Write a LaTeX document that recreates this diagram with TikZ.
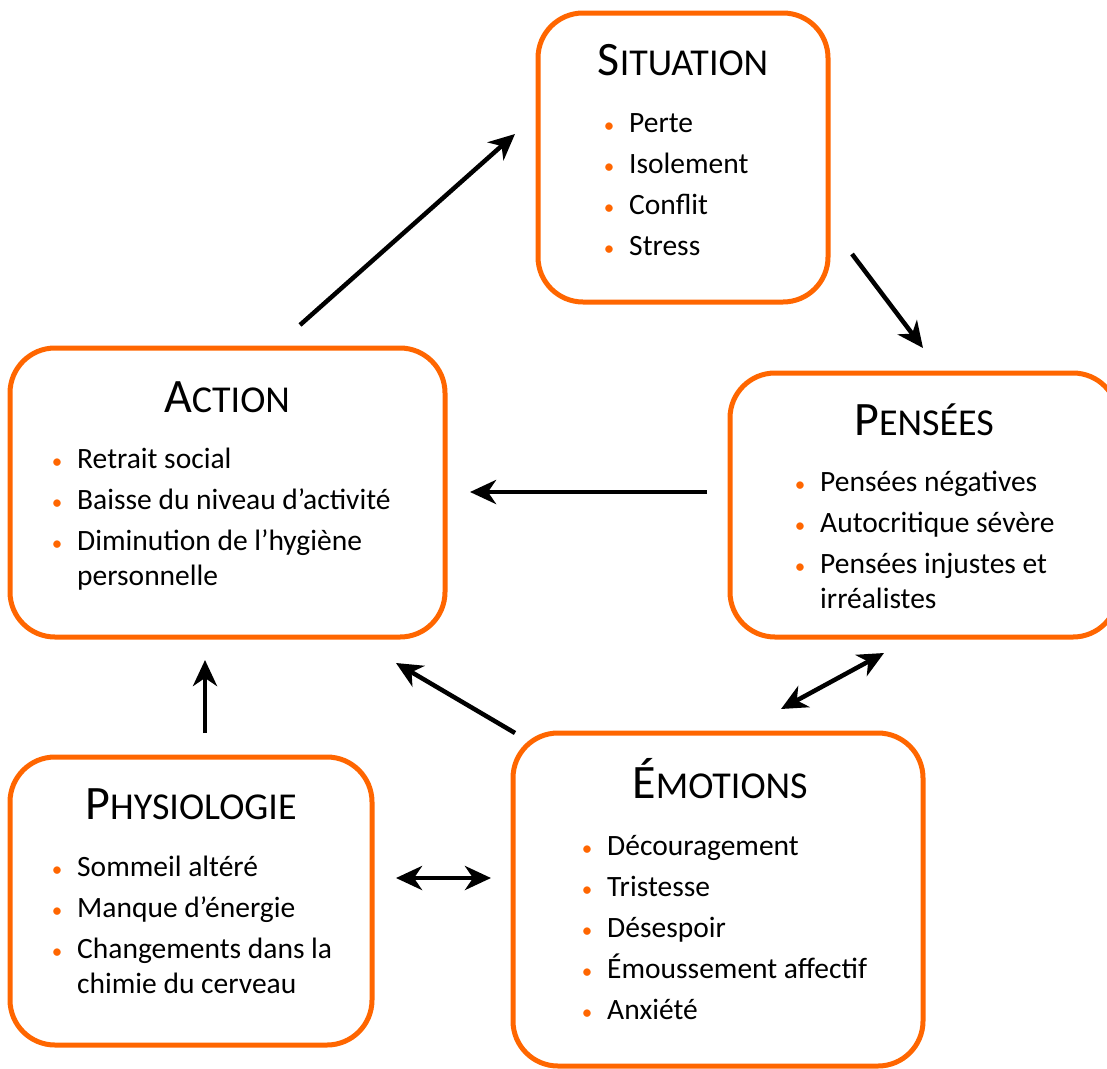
\documentclass[tikz,border=0pt]{standalone}
\usepackage{fontspec}
\setmainfont{Carlito}
\usetikzlibrary{arrows.meta}
\definecolor{orangeA}{RGB}{255,102,0}
\newcommand{\titre}[2]{{\fontsize{48}{48}\selectfont #1}{\fontsize{38}{38}\selectfont #2}}
\newcommand{\puce}{\leavevmode\llap{\makebox[40pt][c]{\fontsize{21}{21}\selectfont\textcolor{orangeA}{\textbullet}}}}
\newcommand{\liste}[1]{\vtop{\hsize=380pt\parindent=0pt\raggedright #1}}

\begin{document}
\begin{tikzpicture}[x=1pt, y=-1pt,
	boite/.style={draw=orangeA, line width=5pt, rounded corners=45pt, fill=white},
	titre/.style={anchor=base, inner sep=0pt},
	liste/.style={anchor=base west, inner sep=0pt, font=\fontsize{29.5}{35}\selectfont},
	fleche/.style={line width=4.5pt, -{Stealth[length=26pt, width=24pt, inset=8pt]}},
	fleches/.style={line width=4.5pt, {Stealth[length=26pt, width=24pt, inset=8pt]}-{Stealth[length=26pt, width=24pt, inset=8pt]}}]
	\useasboundingbox (0,0) rectangle (1107,1068);
	
	% les cinq cadres
	\node[boite, minimum width=290pt, minimum height=289pt] (situation) at (683,157.5) {};
	\node[boite, minimum width=435pt, minimum height=289pt] (action) at (227.5,492.5) {};
	\node[boite, minimum width=388pt, minimum height=264pt] (pensees) at (924,505) {};
	\node[boite, minimum width=362pt, minimum height=288pt] (physio) at (191,901) {};
	\node[boite, minimum width=410pt, minimum height=333pt] (emotions) at (718,899.5) {};
	
	% titres
	\node[titre] (tsit) at (683,75) {\titre{S}{ITUATION}};
	\node[titre] (tact) at (227,412) {\titre{A}{CTION}};
	\node[titre] (tpen) at (924,435) {\titre{P}{ENSÉES}};
	\node[titre] (tphy) at (191,819) {\titre{P}{HYSIOLOGIE}};
	\node[titre] (temo) at (720,798) {\titre{É}{MOTIONS}};
	
	% listes
	\node[liste] (lsit) at (629,132) {\liste{\puce Perte\\[6pt] \puce Isolement\\[6pt] \puce Conflit\\[6pt] \puce Stress}};
	\node[liste] (lact) at (77,468) {\liste{\puce Retrait social\\[6pt] \puce Baisse du niveau d’activité\\[6pt] \puce Diminution de l’hygiène\\ personnelle}};
	\node[liste] (lpen) at (820,491) {\liste{\puce Pensées négatives\\[6pt] \puce Autocritique sévère\\[6pt] \puce Pensées injustes et\\ irréalistes}};
	\node[liste] (lphy) at (77,876) {\liste{\puce Sommeil altéré\\[6pt] \puce Manque d’énergie\\[6pt] \puce Changements dans la\\ chimie du cerveau}};
	\node[liste] (lemo) at (607,855) {\liste{\puce Découragement\\[6pt] \puce Tristesse\\[6pt] \puce Désespoir\\[6pt] \puce Émoussement affectif\\[6pt] \puce Anxiété}};
	
	% fleches
	\coordinate (as1) at (300,325);
	\coordinate (as2) at (515,134);
	\coordinate (sp1) at (852,254);
	\coordinate (sp2) at (923,348);
	\coordinate (pa1) at (707,492);
	\coordinate (pa2) at (470,492);
	\coordinate (ha1) at (205,733);
	\coordinate (ha2) at (205,660);
	\coordinate (ea1) at (515,733);
	\coordinate (ea2) at (396,663);
	\coordinate (pe1) at (884,653);
	\coordinate (pe2) at (781,709);
	\coordinate (he1) at (396,878);
	\coordinate (he2) at (491,878);
	
	\draw[fleche] (as1) -- (as2);
	\draw[fleche] (sp1) -- (sp2);
	\draw[fleche] (pa1) -- (pa2);
	\draw[fleche] (ha1) -- (ha2);
	\draw[fleche] (ea1) -- (ea2);
	\draw[fleches] (pe1) -- (pe2);
	\draw[fleches] (he1) -- (he2);
\end{tikzpicture}
\end{document}
